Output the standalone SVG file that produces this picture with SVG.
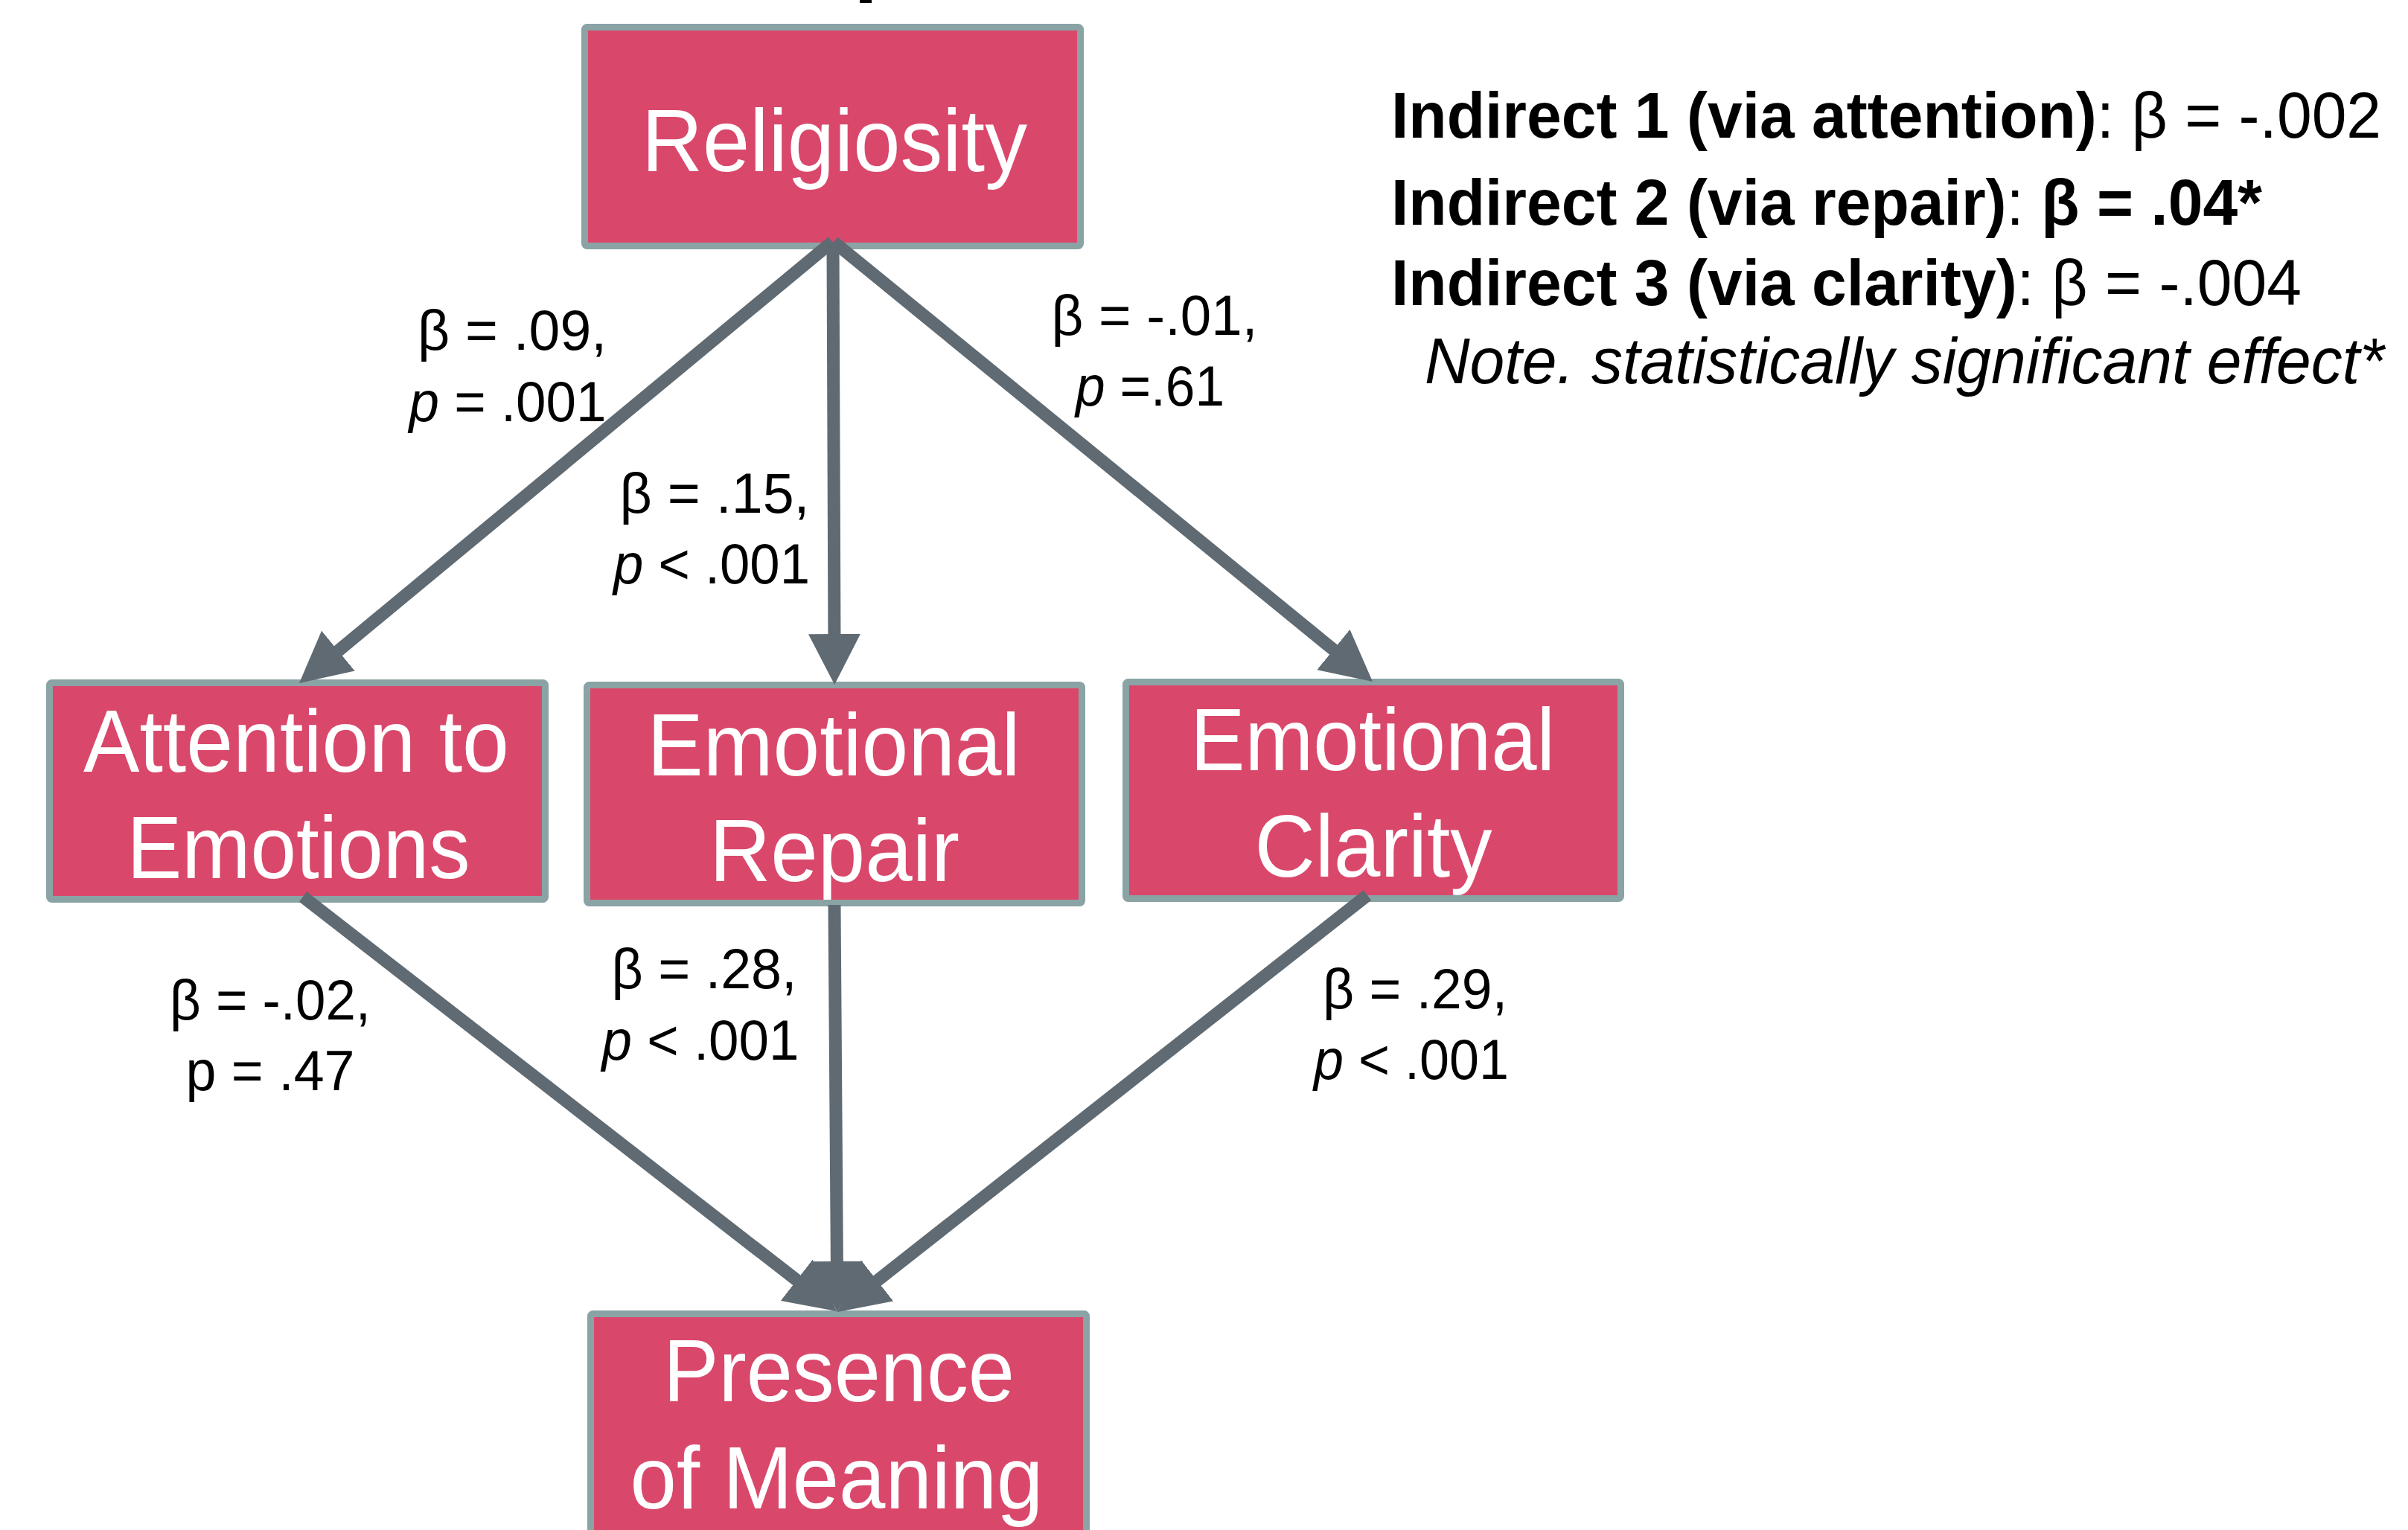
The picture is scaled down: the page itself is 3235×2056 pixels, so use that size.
<svg xmlns="http://www.w3.org/2000/svg" width="3235" height="2056" viewBox="0 0 3235 2056">
  <style>
    .box { fill: #d9486b; stroke: #8aa3a5; stroke-width: 9; }
    .nt { font-family: "Liberation Sans", Arial, sans-serif; font-size: 118px; fill: #ffffff; text-anchor: middle; }
    .lbl { font-family: "Liberation Sans", Arial, sans-serif; font-size: 76px; fill: #000000; text-anchor: middle; }
    .ind { font-family: "Liberation Sans", Arial, sans-serif; font-size: 88px; fill: #000000; }
    .b { font-weight: bold; }
    .it { font-style: italic; }
    .conn { stroke: #5f6a72; stroke-width: 17; fill: none; marker-end: url(#arrow); }
  </style>
  <defs>
    <marker id="arrow" markerUnits="userSpaceOnUse" viewBox="0 0 68 70" markerWidth="68" markerHeight="70" refX="18" refY="35" orient="auto">
      <path d="M0,0 L68,35 L0,70 Z" fill="#5f6a72"/>
    </marker>
  </defs>
  <rect width="3235" height="2056" fill="#ffffff"/>
  <rect x="1155" y="0" width="16" height="4" fill="#000000"/>

  <g id="religiosity">
    <rect class="box" x="785.5" y="36.5" width="666" height="294" rx="3"/>
    <text class="nt" x="1121" y="230" textLength="518" lengthAdjust="spacingAndGlyphs">Religiosity</text>
  </g>
  <g id="attention">
    <rect class="box" x="66.5" y="917.5" width="666" height="291" rx="3"/>
    <text class="nt" x="398" y="1037" textLength="572" lengthAdjust="spacingAndGlyphs">Attention to</text>
    <text class="nt" x="401" y="1180" textLength="461" lengthAdjust="spacingAndGlyphs">Emotions</text>
  </g>
  <g id="repair">
    <rect class="box" x="788.5" y="920.5" width="665" height="293" rx="3"/>
    <text class="nt" x="1120" y="1042" textLength="501" lengthAdjust="spacingAndGlyphs">Emotional</text>
    <text class="nt" x="1121" y="1184" textLength="336" lengthAdjust="spacingAndGlyphs">Repair</text>
  </g>
  <g id="clarity">
    <rect class="box" x="1512.5" y="916.5" width="665" height="291" rx="3"/>
    <text class="nt" x="1844" y="1035" textLength="490" lengthAdjust="spacingAndGlyphs">Emotional</text>
    <text class="nt" x="1845" y="1178" textLength="319" lengthAdjust="spacingAndGlyphs">Clarity</text>
  </g>
  <g id="presence">
    <rect class="box" x="793.5" y="1765.5" width="666" height="400" rx="3"/>
    <text class="nt" x="1127" y="1883" textLength="472" lengthAdjust="spacingAndGlyphs">Presence</text>
    <text class="nt" x="1124" y="2027" textLength="555" lengthAdjust="spacingAndGlyphs">of Meaning</text>
  </g>

  <g id="connectors">
    <path class="conn" d="M1118,325 L440.5,886.1"/>
    <path class="conn" d="M1119,325 L1121,870"/>
    <path class="conn" d="M1120,325 L1805.3,884.4"/>
    <path class="conn" d="M407,1205 L1084.5,1731.3"/>
    <path class="conn" d="M1121,1216 L1124.5,1713"/>
    <path class="conn" d="M1837,1203 L1164.3,1732.1"/>
  </g>

  <g id="labels">
    <text class="lbl" x="688" y="470" textLength="254" lengthAdjust="spacingAndGlyphs">β = .09,</text>
    <text class="lbl" x="682" y="566" textLength="265" lengthAdjust="spacingAndGlyphs"><tspan class="it">p</tspan> = .001</text>
    <text class="lbl" x="960" y="689" textLength="255" lengthAdjust="spacingAndGlyphs">β = .15,</text>
    <text class="lbl" x="956" y="784" textLength="264" lengthAdjust="spacingAndGlyphs"><tspan class="it">p</tspan> &lt; .001</text>
    <text class="lbl" x="1551" y="450" textLength="277" lengthAdjust="spacingAndGlyphs">β = -.01,</text>
    <text class="lbl" x="1545" y="545" textLength="200" lengthAdjust="spacingAndGlyphs"><tspan class="it">p</tspan> =.61</text>
    <text class="lbl" x="363" y="1370" textLength="270" lengthAdjust="spacingAndGlyphs">β = -.02,</text>
    <text class="lbl" x="363" y="1465" textLength="227" lengthAdjust="spacingAndGlyphs">p = .47</text>
    <text class="lbl" x="946" y="1328" textLength="249" lengthAdjust="spacingAndGlyphs">β = .28,</text>
    <text class="lbl" x="941" y="1424" textLength="265" lengthAdjust="spacingAndGlyphs"><tspan class="it">p</tspan> &lt; .001</text>
    <text class="lbl" x="1901" y="1355" textLength="248" lengthAdjust="spacingAndGlyphs">β = .29,</text>
    <text class="lbl" x="1896" y="1450" textLength="262" lengthAdjust="spacingAndGlyphs"><tspan class="it">p</tspan> &lt; .001</text>
  </g>

  <g id="indirect-effects" transform="translate(1869 0) scale(0.955 1)">
    <text class="ind" x="0" y="185"><tspan class="b">Indirect 1 (via attention)</tspan>: β = -.002</text>
    <text class="ind" x="0" y="302"><tspan class="b">Indirect 2 (via repair)</tspan>: <tspan class="b">β = .04*</tspan></text>
    <text class="ind" x="0" y="410"><tspan class="b">Indirect 3 (via clarity)</tspan>: β = -.004</text>
    <text class="ind it" x="47" y="515">Note. statistically significant effect*</text>
  </g>
</svg>
